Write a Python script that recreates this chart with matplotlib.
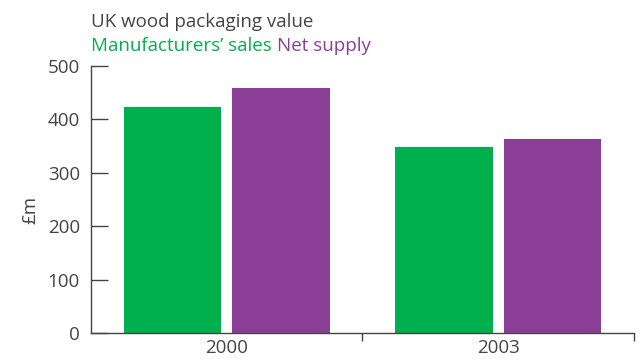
import numpy as np
import matplotlib.pyplot as plt
from matplotlib.ticker import FixedLocator

plt.rcParams['font.family'] = ['Open Sans', 'DejaVu Sans']

years = ['2000', '2003']
manufacturers_sales = [423, 348]
net_supply = [459, 363]

green = '#00b04c'
purple = '#8b3e96'
grey = '#444444'

fig = plt.figure(figsize=(6.42, 3.6), dpi=100)
ax = fig.add_axes([0.1417, 0.075, 0.8458, 0.7417])

x = np.arange(len(years))
w = 0.36
ax.bar(x - 0.2, manufacturers_sales, width=w, color=green)
ax.bar(x + 0.2, net_supply, width=w, color=purple)

ax.set_xlim(-0.5, 1.5)
ax.set_ylim(0, 500)
ax.set_yticks([0, 100, 200, 300, 400, 500])
ax.set_xticks(x)
ax.set_xticklabels(years)
ax.xaxis.set_minor_locator(FixedLocator([0.5, 1.5]))

for s in ['top', 'right']:
    ax.spines[s].set_visible(False)
for s in ['left', 'bottom']:
    ax.spines[s].set_color(grey)
    ax.spines[s].set_linewidth(1.0)

ax.tick_params(axis='y', direction='in', length=12, width=1.0, color=grey,
               labelsize=13.5, labelcolor=grey, pad=8)
ax.tick_params(axis='x', which='major', length=0, labelsize=13.5,
               labelcolor=grey, pad=4)
ax.tick_params(axis='x', which='minor', direction='out', length=6,
               width=1.0, color=grey)

ax.set_ylabel('£m', fontsize=13.5, color=grey, labelpad=4)
ax.yaxis.set_label_coords(-0.095, 0.46)

fig.text(0.142, 0.925, 'UK wood packaging value', fontsize=13.5, color=grey,
         va='baseline', ha='left')
t1 = fig.text(0.142, 0.858, 'Manufacturers\u2019 sales', fontsize=13.5,
              color=green, va='baseline', ha='left')
fig.canvas.draw()
bb = t1.get_window_extent().transformed(fig.transFigure.inverted())
fig.text(bb.x1 + 0.008, 0.858, 'Net supply', fontsize=13.5, color=purple,
         va='baseline', ha='left')

fig.savefig('out.png', dpi=100)
